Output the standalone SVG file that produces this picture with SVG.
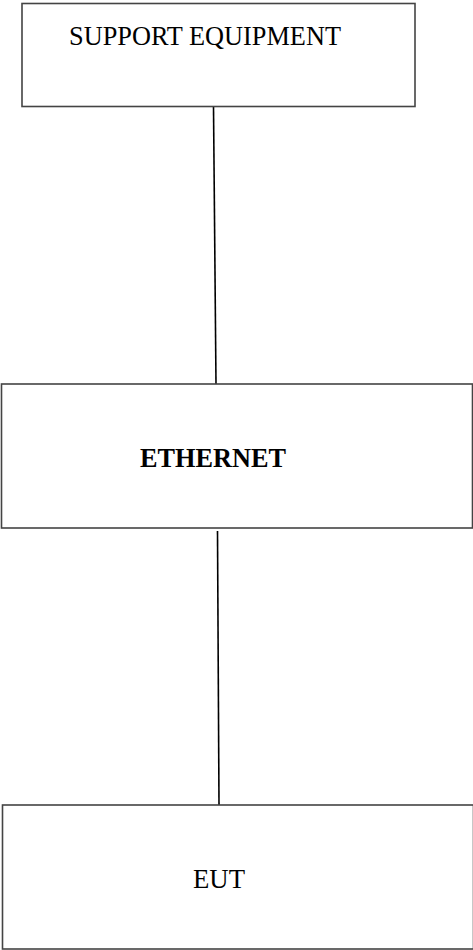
<svg xmlns="http://www.w3.org/2000/svg" width="473" height="950" viewBox="0 0 473 950">
<style>
.box{fill:#fff;stroke:#444;stroke-width:1.6}
.lbl{font-family:"Liberation Serif","Times New Roman",serif;font-size:27.5px;fill:#000}
.conn line{stroke:#000;stroke-width:1.6}
</style>
<rect width="473" height="950" fill="#fff"/>
<g class="conn">
<line x1="213.5" y1="106" x2="216" y2="384"/>
<line x1="217.5" y1="531" x2="219" y2="805"/>
</g>
<g id="support">
<rect class="box" x="22" y="3.5" width="393" height="103"/>
<text class="lbl" x="69" y="45" textLength="272" lengthAdjust="spacingAndGlyphs">SUPPORT EQUIPMENT</text>
</g>
<g id="ethernet">
<rect class="box" x="1.5" y="384" width="471" height="144"/>
<text class="lbl" x="140" y="467" font-weight="bold" textLength="146" lengthAdjust="spacingAndGlyphs">ETHERNET</text>
</g>
<g id="eut">
<rect class="box" x="2.5" y="805" width="471" height="144"/>
<text class="lbl" x="193" y="888" textLength="52" lengthAdjust="spacingAndGlyphs">EUT</text>
</g>
</svg>
